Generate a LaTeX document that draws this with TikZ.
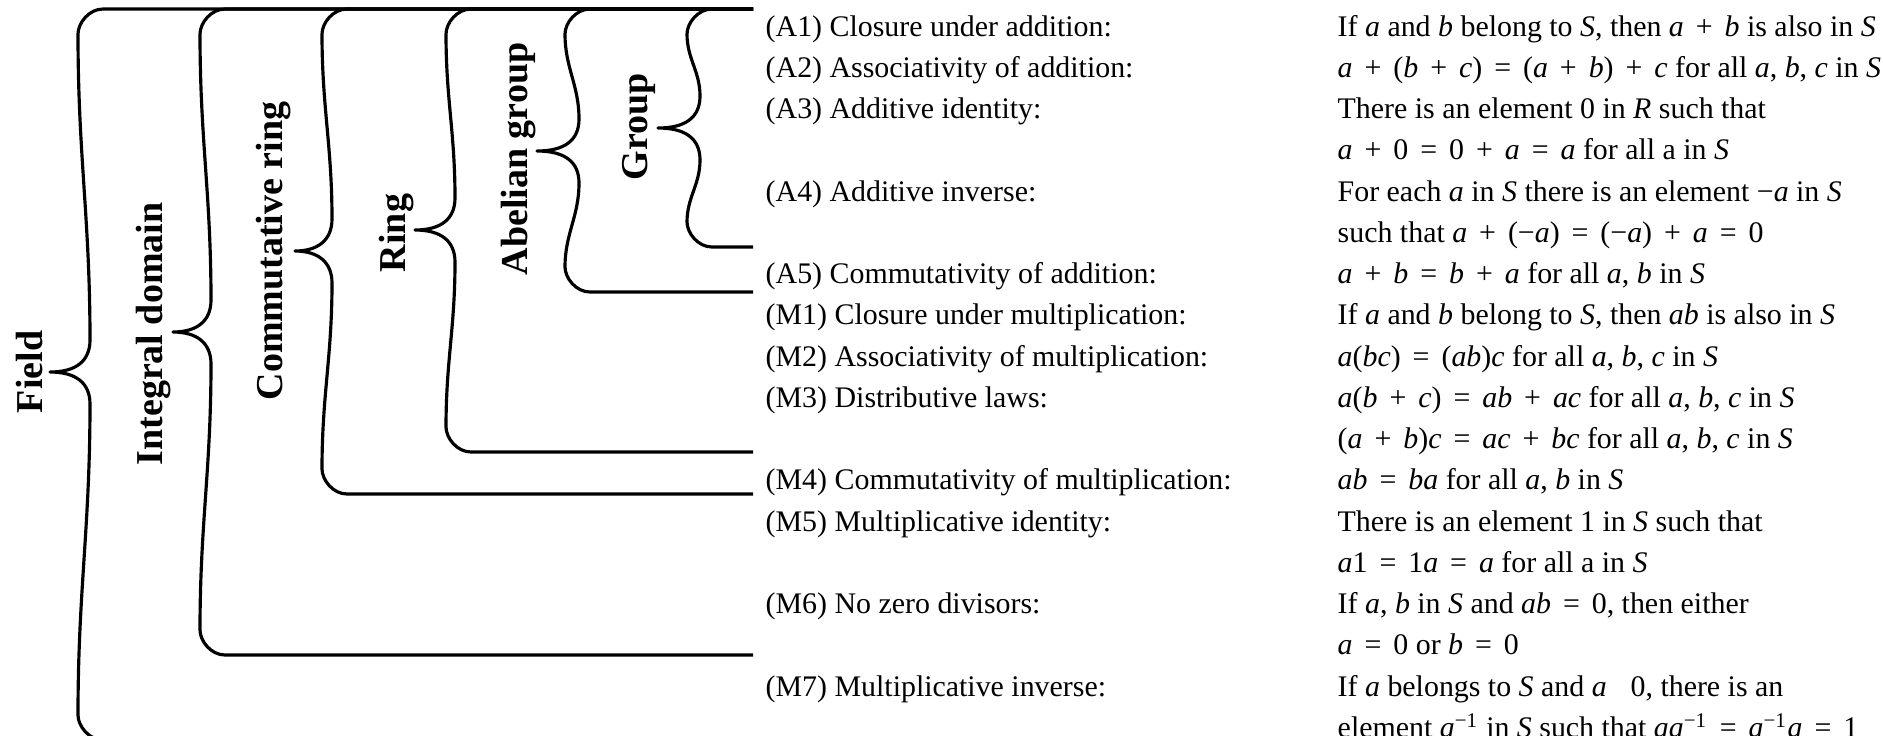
\documentclass[tikz,border=0pt]{standalone}
\usepackage{fontspec}
\setmainfont{Liberation Serif}

\tikzset{
  brace line/.style={line width=0.9pt, line join=round},
  axiom/.style={anchor=base west, inner sep=0pt, font=\fontsize{8.5}{10}\selectfont},
  structure/.style={rotate=90, anchor=base, inner sep=0pt, font=\fontsize{10.8}{13}\selectfont\bfseries}
}

% italic variable and spaced operator
\newcommand{\mv}[1]{\textit{#1}}
\newcommand{\bop}[1]{\hspace{0.4em}#1\hspace{0.4em}}

% brace: outer x, inner x, tip x, tip y, top y, bottom y
\newcommand{\algbrace}[6]{%
  \draw[brace line] (753,#5) -- ({#1+25},#5)
    .. controls ({#1+11},#5) and (#1,{#5+14}) .. (#1,{#5+25})
    .. controls (#1,{#5+25+0.4*(#4-#5-57)}) and (#2,{#4-32-0.4*(#4-#5-57)}) .. (#2,{#4-32})
    .. controls (#2,{#4-11}) and ({#2-14},#4) .. (#3,#4)
    .. controls ({#2-14},#4) and (#2,{#4+11}) .. (#2,{#4+32})
    .. controls (#2,{#4+32+0.4*(#6-#4-57)}) and (#1,{#6-25-0.4*(#6-#4-57)}) .. (#1,{#6-25})
    .. controls (#1,{#6-14}) and ({#1+11},#6) .. ({#1+25},#6) -- (753,#6);
}

\begin{document}
\begin{tikzpicture}[x=0.01cm, y=-0.01cm]
\clip (0,0) rectangle (1883,735);

%BRACES
\algbrace{78}{90}{50}{372}{9}{740}
\algbrace{200}{211}{173}{332}{9}{655}
\algbrace{322}{332}{295}{251}{9}{494}
\algbrace{446}{455}{415}{230}{9}{452}
\algbrace{565}{579}{537}{151}{9}{292}
\algbrace{687}{700}{658}{128}{9}{247}

%STRUCTURES
\node[structure] (field) at (42,372) {Field};
\node[structure] (intdomain) at (162,334) {Integral domain};
\node[structure] (commring) at (282,251) {Commutative ring};
\node[structure] (ring) at (405,233) {Ring};
\node[structure] (abgroup) at (527,159) {Abelian group};
\node[structure] (group) at (647,127) {Group};

%AXIOM NAMES
\node[axiom] (a1) at (765,36) {(A1) Closure under addition:};
\node[axiom] (a2) at (765,77.25) {(A2) Associativity of addition:};
\node[axiom] (a3) at (765,118.5) {(A3) Additive identity:};
\node[axiom] (a4) at (765,201) {(A4) Additive inverse:};
\node[axiom] (a5) at (765,283.5) {(A5) Commutativity of addition:};
\node[axiom] (m1) at (765,324.75) {(M1) Closure under multiplication:};
\node[axiom] (m2) at (765,366) {(M2) Associativity of multiplication:};
\node[axiom] (m3) at (765,407.25) {(M3) Distributive laws:};
\node[axiom] (m4) at (765,489.75) {(M4) Commutativity of multiplication:};
\node[axiom] (m5) at (765,531) {(M5) Multiplicative identity:};
\node[axiom] (m6) at (765,613.5) {(M6) No zero divisors:};
\node[axiom] (m7) at (765,696) {(M7) Multiplicative inverse:};

%AXIOM STATEMENTS
\node[axiom] (s1) at (1337,36) {If \mv{a} and \mv{b} belong to \mv{S}, then \mv{a}\bop{+}\mv{b} is also in \mv{S}};
\node[axiom] (s2) at (1337,77.25) {\mv{a}\bop{+}(\mv{b}\bop{+}\mv{c})\bop{=}(\mv{a}\bop{+}\mv{b})\bop{+}\mv{c} for all \mv{a}, \mv{b}, \mv{c} in \mv{S}};
\node[axiom] (s3) at (1337,118.5) {There is an element 0 in \mv{R} such that};
\node[axiom] (s3b) at (1337,159.75) {\mv{a}\bop{+}0\bop{=}0\bop{+}\mv{a}\bop{=}\mv{a} for all a in \mv{S}};
\node[axiom] (s4) at (1337,201) {For each \mv{a} in \mv{S} there is an element −\mv{a} in \mv{S}};
\node[axiom] (s4b) at (1337,242.25) {such that \mv{a}\bop{+}(−\mv{a})\bop{=}(−\mv{a})\bop{+}\mv{a}\bop{=}0};
\node[axiom] (s5) at (1337,283.5) {\mv{a}\bop{+}\mv{b}\bop{=}\mv{b}\bop{+}\mv{a} for all \mv{a}, \mv{b} in \mv{S}};
\node[axiom] (t1) at (1337,324.75) {If \mv{a} and \mv{b} belong to \mv{S}, then \mv{ab} is also in \mv{S}};
\node[axiom] (t2) at (1337,366) {\mv{a}(\mv{bc})\bop{=}(\mv{ab})\mv{c} for all \mv{a}, \mv{b}, \mv{c} in \mv{S}};
\node[axiom] (t3) at (1337,407.25) {\mv{a}(\mv{b}\bop{+}\mv{c})\bop{=}\mv{ab}\bop{+}\mv{ac} for all \mv{a}, \mv{b}, \mv{c} in \mv{S}};
\node[axiom] (t3b) at (1337,448.5) {(\mv{a}\bop{+}\mv{b})\mv{c}\bop{=}\mv{ac}\bop{+}\mv{bc} for all \mv{a}, \mv{b}, \mv{c} in \mv{S}};
\node[axiom] (t4) at (1337,489.75) {\mv{ab}\bop{=}\mv{ba} for all \mv{a}, \mv{b} in \mv{S}};
\node[axiom] (t5) at (1337,531) {There is an element 1 in \mv{S} such that};
\node[axiom] (t5b) at (1337,572.25) {\mv{a}1\bop{=}1\mv{a}\bop{=}\mv{a} for all a in \mv{S}};
\node[axiom] (t6) at (1337,613.5) {If \mv{a}, \mv{b} in \mv{S} and \mv{ab}\bop{=}0, then either};
\node[axiom] (t6b) at (1337,654.75) {\mv{a}\bop{=}0 or \mv{b}\bop{=}0};
\node[axiom] (t7) at (1337,696) {If \mv{a} belongs to \mv{S} and \mv{a}\hspace{0.8em}0, there is an};
\node[axiom] (t7b) at (1337,737.25) {element \mv{a}\textsuperscript{−1} in \mv{S} such that \mv{aa}\textsuperscript{−1}\bop{=}\mv{a}\textsuperscript{−1}\mv{a}\bop{=}1};

\end{tikzpicture}
\end{document}
